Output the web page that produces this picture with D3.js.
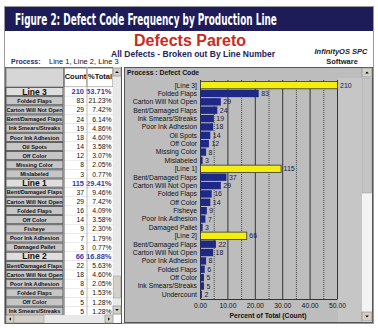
<!DOCTYPE html>
<html><head><meta charset="utf-8">
<script src="https://cdn.jsdelivr.net/npm/d3@7"></script>
<style>html,body{margin:0;padding:0;background:#fff;}svg{display:block;font-family:"Liberation Sans",Arial,sans-serif;}</style>
</head><body>
<script>
// ---- data ----
const lineNames = ["Line 3", "Line 1", "Line 2"];
const lineCounts = [210, 115, 66];
const line3Defects = ["Folded Flaps","Carton Will Not Open","Bent/Damaged Flaps","Ink Smears/Streaks","Poor Ink Adhesion","Oil Spots","Off Color","Missing Color","Mislabeled"];
const line3Counts = [83, 29, 24, 19, 18, 14, 12, 8, 3];
const line1Defects = ["Bent/Damaged Flaps","Carton Will Not Open","Folded Flaps","Off Color","Fisheye","Poor Ink Adhesion","Damaged Pallet"];
const line1Counts = [37, 29, 16, 14, 9, 7, 3];
const line2Defects = ["Bent/Damaged Flaps","Carton Will Not Open","Poor Ink Adhesion","Folded Flaps","Off Color","Ink Smears/Streaks","Undercount"];
const line2Counts = [22, 18, 8, 6, 5, 5, 2];
const xTicks = [0, 10, 20, 30, 40, 50];
const totalCount = d3.sum(lineCounts);

const rows = [];
[[line3Defects, line3Counts], [line1Defects, line1Counts], [line2Defects, line2Counts]].forEach((g, i) => {
  rows.push({label: lineNames[i], count: lineCounts[i], isLine: true});
  g[0].forEach((d, j) => rows.push({label: d, count: g[1][j], isLine: false}));
});
rows.forEach((r, i) => { r.i = i; r.pct = r.count / totalCount * 100; });

const W = 378, H = 328;
const svg = d3.select("body").append("svg").attr("width", W).attr("height", H);

// outer frame and title bar
svg.append("rect").attr("x", 4.5).attr("y", 6.5).attr("width", 369).attr("height", 317).attr("fill", "#fff").attr("stroke", "#9a9a9a");
svg.append("rect").attr("x", 5).attr("y", 7).attr("width", 368).attr("height", 24).attr("fill", "#1d1b58");
const title = svg.append("text").attr("x", 0).attr("y", 0).attr("fill", "#fff")
  .style("font-family", "'Liberation Sans Narrow','DejaVu Sans Condensed',sans-serif").style("font-weight", "bold").style("font-size", "16px")
  .text("Figure 2: Defect Code Frequency by Production Line");
const natural = title.node().getComputedTextLength();
title.attr("transform", `translate(15,24.5) scale(${262 / natural},1)`);

// headings
svg.append("text").attr("x", 190).attr("y", 45.5).attr("text-anchor", "middle").attr("fill", "#cc2a1c")
  .style("font-weight", "bold").style("font-size", "16px").text("Defects Pareto");
svg.append("text").attr("x", 193).attr("y", 57).attr("text-anchor", "middle").attr("fill", "#23235e")
  .style("font-weight", "bold").style("font-size", "8.5px").text("All Defects - Broken out By Line Number");
svg.append("text").attr("x", 341).attr("y", 54).attr("text-anchor", "middle").attr("fill", "#222")
  .style("font-weight", "bold").style("font-style", "italic").style("font-size", "7.5px").text("InfinityOS SPC");
svg.append("text").attr("x", 342).attr("y", 64).attr("text-anchor", "middle").attr("fill", "#222")
  .style("font-weight", "bold").style("font-size", "7.5px").text("Software");
svg.append("text").attr("x", 11).attr("y", 64).attr("fill", "#2a2a7a")
  .style("font-weight", "bold").style("font-size", "7px").text("Process:");
svg.append("text").attr("x", 49).attr("y", 64).attr("fill", "#111")
  .style("font-size", "7.5px").text("Line 1, Line 2, Line 3");

// ---- left table ----
const tX0 = 5, tLab = 64, tCnt = 87, tPct = 113, tSB = 121;
const tTop = 67, tHead = 87, tBottom = 315;
const tRow = d3.scaleBand().domain(rows.map(r => r.i)).range([tHead, tHead + rows.length * 9.15]);

svg.append("rect").attr("x", tX0 + 0.5).attr("y", tTop + 0.5).attr("width", tSB - tX0).attr("height", 323 - tTop).attr("fill", "#fff").attr("stroke", "#555");
// header
svg.append("rect").attr("x", tX0 + 1).attr("y", tTop + 1).attr("width", tLab - tX0 - 1).attr("height", tHead - tTop - 1).attr("fill", "#d6d6d6").attr("stroke", "#888");
svg.append("rect").attr("x", tLab).attr("y", tTop + 1).attr("width", tCnt - tLab).attr("height", tHead - tTop - 1).attr("fill", "#fff").attr("stroke", "#888");
svg.append("rect").attr("x", tCnt).attr("y", tTop + 1).attr("width", tPct - tCnt).attr("height", tHead - tTop - 1).attr("fill", "#fff").attr("stroke", "#888");
svg.append("text").attr("x", 75.5).attr("y", 79).attr("text-anchor", "middle").style("font-weight", "bold").style("font-size", "7.5px").attr("fill", "#111").text("Count");
svg.append("text").attr("x", 100).attr("y", 79).attr("text-anchor", "middle").style("font-weight", "bold").style("font-size", "7.5px").attr("fill", "#111").text("%Total");

const clip = svg.append("clipPath").attr("id", "tclip");
clip.append("rect").attr("x", tX0).attr("y", tHead).attr("width", tPct - tX0).attr("height", tBottom - tHead);
const tb = svg.append("g").attr("clip-path", "url(#tclip)");
const tr = tb.selectAll("g.row").data(rows).join("g").attr("class", "row")
  .attr("transform", d => `translate(0,${tRow(d.i)})`);
tr.append("rect").attr("x", tX0 + 1).attr("y", 0.5).attr("width", tLab - tX0 - 2).attr("height", tRow.bandwidth() - 1)
  .attr("fill", d => d.isLine ? "#dedede" : "#c6c6c6").attr("stroke", "#444").attr("stroke-width", 0.8);
tr.append("rect").attr("x", tLab).attr("y", 0).attr("width", tPct - tLab).attr("height", tRow.bandwidth())
  .attr("fill", "#fff").attr("stroke", "#ddd").attr("stroke-width", 0.5);
tr.append("text").attr("x", (tX0 + tLab) / 2).attr("y", d => d.isLine ? 7.6 : 6.8).attr("text-anchor", "middle")
  .style("font-weight", "bold").style("font-size", d => d.isLine ? "8.5px" : "5.6px")
  .style("font-family", d => d.isLine ? "'Liberation Sans',Arial,sans-serif" : "'Liberation Sans Narrow','Liberation Sans',sans-serif")
  .attr("fill", "#111").text(d => d.label);
tr.append("text").attr("x", 84).attr("y", 7.2).attr("text-anchor", "end")
  .style("font-size", d => d.isLine ? "7.5px" : "6.8px").style("font-weight", d => d.isLine ? "bold" : "normal")
  .attr("fill", d => d.isLine ? "#3a3aa8" : "#111").text(d => d.count);
tr.append("text").attr("x", 111.5).attr("y", 7.2).attr("text-anchor", "end")
  .style("font-size", d => d.isLine ? "7.5px" : "6.8px").style("font-weight", d => d.isLine ? "bold" : "normal")
  .attr("fill", d => d.isLine ? "#3a3aa8" : "#111").text(d => d3.format(".2f")(d.pct) + "%");
svg.append("line").attr("x1", tLab).attr("x2", tLab).attr("y1", tTop).attr("y2", tBottom).attr("stroke", "#666");
svg.append("line").attr("x1", tCnt).attr("x2", tCnt).attr("y1", tTop).attr("y2", tBottom).attr("stroke", "#bbb");

// table scrollbars
function arrowBtn(g, x, y, w, h, dir) {
  g.append("rect").attr("x", x).attr("y", y).attr("width", w).attr("height", h).attr("fill", "#d4d0c8").attr("stroke", "#808080").attr("stroke-width", 0.6);
  const cx = x + w / 2, cy = y + h / 2, s = 1.8;
  let p;
  if (dir === "up") p = [[cx - s, cy + s / 2], [cx + s, cy + s / 2], [cx, cy - s / 2]];
  if (dir === "down") p = [[cx - s, cy - s / 2], [cx + s, cy - s / 2], [cx, cy + s / 2]];
  if (dir === "left") p = [[cx + s / 2, cy - s], [cx + s / 2, cy + s], [cx - s / 2, cy]];
  if (dir === "right") p = [[cx - s / 2, cy - s], [cx - s / 2, cy + s], [cx + s / 2, cy]];
  g.append("path").attr("d", d3.line()(p) + "Z").attr("fill", "#000");
}
const sb = svg.append("g");
sb.append("rect").attr("x", tPct).attr("y", tTop).attr("width", tSB - tPct).attr("height", tBottom - tTop).attr("fill", "#e8e8e8");
arrowBtn(sb, tPct, tTop + 1, tSB - tPct, 8, "up");
sb.append("rect").attr("x", tPct + 0.5).attr("y", 276).attr("width", tSB - tPct - 1).attr("height", 22).attr("fill", "#d4d0c8").attr("stroke", "#999").attr("stroke-width", 0.5);
arrowBtn(sb, tPct, 306, tSB - tPct, 8, "down");
sb.append("rect").attr("x", tX0 + 1).attr("y", tBottom).attr("width", tPct - tX0 - 1).attr("height", 8).attr("fill", "#e8e8e8");
arrowBtn(sb, tX0 + 1, tBottom, 8, 8, "left");
sb.append("rect").attr("x", 14).attr("y", tBottom + 0.5).attr("width", 30).attr("height", 7).attr("fill", "#d4d0c8").attr("stroke", "#999").attr("stroke-width", 0.5);
arrowBtn(sb, tPct - 8, tBottom, 8, 8, "right");

// ---- chart panel ----
const pX0 = 124, pX1 = 373, pY0 = 67, pY1 = 323;
svg.append("rect").attr("x", pX0 + 0.5).attr("y", pY0 + 0.5).attr("width", pX1 - pX0 - 1).attr("height", pY1 - pY0 - 1).attr("fill", "#bdbdbd").attr("stroke", "#555");
svg.append("rect").attr("x", 338).attr("y", 78).attr("width", 24).attr("height", 244).attr("fill", "#c6c6c6");
svg.append("text").attr("x", 127).attr("y", 75).style("font-weight", "bold").style("font-size", "6.8px").attr("fill", "#111").text("Process : Defect Code");

const x = d3.scaleLinear().domain([0, 50]).range([200, 337]).clamp(true);
const y = d3.scaleBand().domain(rows.map(r => r.i)).range([81, 298.5]).paddingInner(0.12).paddingOuter(0.05);
const plotTop = 80, plotBot = 299;

// gridlines
const minor = d3.range(5, 50, 10);
svg.append("g").selectAll("line").data(minor).join("line")
  .attr("x1", d => x(d) + 0.5).attr("x2", d => x(d) + 0.5).attr("y1", plotTop).attr("y2", plotBot)
  .attr("stroke", "#444").attr("stroke-width", 1).attr("stroke-dasharray", "1,1");
svg.append("g").selectAll("line").data(xTicks).join("line")
  .attr("x1", d => x(d) + 0.5).attr("x2", d => x(d) + 0.5).attr("y1", plotTop).attr("y2", plotBot)
  .attr("stroke", "#333").attr("stroke-width", 1);

// bars
svg.append("g").selectAll("rect").data(rows).join("rect")
  .attr("x", x(0) + 0.5).attr("y", d => y(d.i))
  .attr("width", d => x(d.pct) - x(0)).attr("height", y.bandwidth())
  .attr("fill", d => d.isLine ? "#f4ee10" : "#1e2886")
  .attr("stroke", d => d.isLine ? "#333" : "none").attr("stroke-width", 0.8);

// value labels
svg.append("g").selectAll("text").data(rows).join("text")
  .attr("x", d => x(d.pct) + 3).attr("y", d => y(d.i) + y.bandwidth() / 2 + 2.5)
  .style("font-size", "7px").attr("fill", "#1a1a40").text(d => d.count);

// category labels
svg.append("g").selectAll("text").data(rows).join("text")
  .attr("x", 197).attr("y", d => y(d.i) + y.bandwidth() / 2 + 2.4).attr("text-anchor", "end")
  .style("font-size", "6.8px").attr("fill", "#111").text(d => d.isLine ? `[${d.label}]` : d.label);

// x axis
const ax = svg.append("g").attr("transform", `translate(0,${plotBot})`)
  .call(d3.axisBottom(x).tickValues(xTicks).tickSize(0).tickPadding(4).tickFormat(d3.format(".2f")));
ax.select(".domain").attr("stroke", "#333");
ax.selectAll("text").style("font-size", "6.8px").attr("fill", "#111").style("font-family", "'Liberation Sans',Arial,sans-serif");
svg.append("text").attr("x", 268).attr("y", 318).attr("text-anchor", "middle")
  .style("font-weight", "bold").style("font-size", "6.8px").attr("fill", "#111").text("Percent of Total (Count)");

// chart scrollbar
const csb = svg.append("g");
csb.append("rect").attr("x", 362).attr("y", 68).attr("width", 10).attr("height", 254).attr("fill", "#f4f4f4");
arrowBtn(csb, 362, 68, 10, 9, "up");
csb.append("rect").attr("x", 362.5).attr("y", 78).attr("width", 9).attr("height", 115).attr("fill", "#c4c4c4").attr("stroke", "#999").attr("stroke-width", 0.5);
arrowBtn(csb, 362, 312, 10, 9, "down");
</script>
</body></html>
